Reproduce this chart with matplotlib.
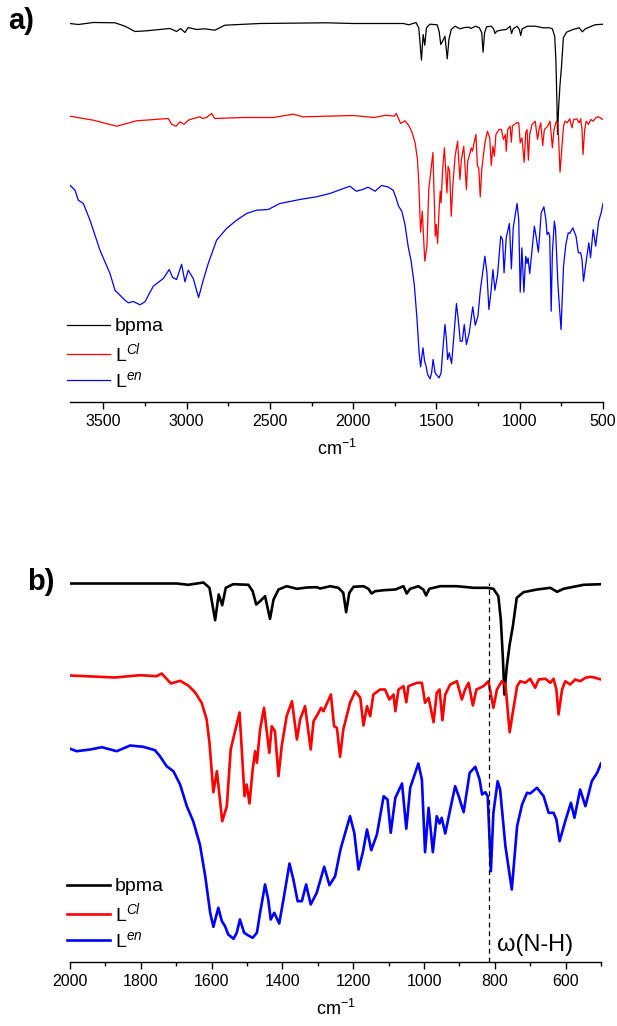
import numpy as np
import matplotlib
matplotlib.use("Agg")
import matplotlib.pyplot as plt
from matplotlib.ticker import MultipleLocator

plt.rcParams['font.family'] = ['Liberation Sans', 'DejaVu Sans']
plt.rcParams['mathtext.fontset'] = 'custom'
plt.rcParams['mathtext.rm'] = 'Liberation Sans'
plt.rcParams['mathtext.it'] = 'Liberation Sans:italic'

##### spectres IR (nombre d'onde cm-1, transmittance décalée u.a.) #####
bpma = [(3700, 416), (3650, 415), (3560, 417), (3430, 416.7), (3370, 413.3), (3310, 408),
        (3240, 408.7), (3100, 411), (3060, 408), (3036, 411), (3010, 407), (2990, 412),
        (2940, 410), (2890, 410.7), (2830, 409.3), (2770, 414.3), (2560, 416), (2160, 416.7),
        (2000, 416), (1840, 416), (1698, 416), (1666, 414.7), (1623, 417), (1606, 411.7),
        (1590, 379.3), (1580, 405), (1570, 394.3), (1560, 411.7), (1539, 415.3), (1496, 414.7),
        (1484, 408.3), (1474, 395), (1463, 398.3), (1449, 403.3), (1435, 380.7), (1425, 400),
        (1411, 410), (1388, 413.3), (1359, 410.7), (1331, 412), (1303, 412.3), (1293, 411),
        (1265, 413.3), (1242, 411.7), (1228, 406.7), (1220, 387.3), (1211, 406.7), (1199, 412.7),
        (1171, 413.3), (1157, 410.7), (1148, 406), (1138, 408.3), (1114, 409.3), (1081, 410),
        (1058, 413.3), (1049, 406), (1039, 410.7), (1016, 413.3), (1002, 410), (994, 404),
        (985, 410.7), (954, 413.3), (907, 413.3), (860, 411.7), (822, 411.7), (804, 410.7),
        (790, 403.3), (783, 380), (777, 340), (773, 305), (766, 333.3), (758, 355),
        (749, 373.3), (738, 401.7), (719, 407.3), (681, 410), (643, 411.7), (624, 407.7),
        (606, 410.7), (549, 414.7), (500, 415.3)]

L_cl = [(3700, 323.3), (3560, 319.3), (3420, 313.3), (3300, 318.7), (3110, 321), (3090, 315.3),
        (3064, 313.3), (3040, 317.7), (3016, 315.3), (2990, 319.3), (2960, 321), (2920, 322.7),
        (2904, 321), (2880, 322), (2850, 326), (2830, 321), (2660, 322), (2480, 322),
        (2360, 325.3), (2300, 322.7), (2000, 324), (1873, 322), (1802, 324.3), (1755, 323.3),
        (1741, 326), (1715, 316), (1689, 318.7), (1666, 314), (1647, 307.3), (1628, 296.7),
        (1614, 280), (1606, 256.7), (1595, 207.3), (1585, 228.3), (1570, 178.3), (1557, 193.3),
        (1546, 250), (1536, 265), (1521, 287), (1507, 203.3), (1501, 215), (1493, 196),
        (1484, 230), (1477, 248.3), (1472, 236.7), (1463, 270), (1452, 291.7), (1437, 246.7),
        (1430, 273.3), (1421, 268.3), (1411, 223.3), (1402, 253.3), (1388, 283.3), (1373, 298.3),
        (1359, 260), (1350, 280), (1336, 293.3), (1320, 250), (1312, 278.3), (1298, 286.7),
        (1291, 291.7), (1284, 288.3), (1263, 305), (1254, 273.3), (1246, 271.7), (1237, 242.7),
        (1228, 270), (1209, 296.7), (1194, 308.3), (1180, 301.7), (1171, 274), (1161, 293.3),
        (1152, 283.3), (1143, 305), (1124, 310), (1110, 310), (1098, 300), (1086, 305),
        (1081, 288.3), (1072, 310), (1058, 313.3), (1050, 297.3), (1044, 313.3), (1020, 316.7),
        (1006, 316.7), (997, 296.7), (987, 301.7), (973, 277.3), (964, 306.7), (956, 310),
        (948, 279.3), (940, 305), (926, 315), (907, 318.3), (893, 300), (884, 310),
        (874, 316.7), (862, 294), (852, 310), (832, 313.3), (818, 318.3), (804, 291.7),
        (794, 310), (780, 318.3), (770, 315), (758, 267.3), (747, 291.7), (737, 313.3),
        (728, 318.3), (714, 316.7), (700, 320.7), (686, 311.7), (676, 320), (657, 320.7),
        (643, 316.7), (634, 320.7), (626, 310), (620, 285), (610, 310), (601, 318.3),
        (587, 315), (573, 320), (559, 318.3), (544, 321.7), (530, 322.7), (516, 321.7),
        (500, 320)]

L_en = [(3700, 254.3), (3670, 249.3), (3650, 239.3), (3620, 236), (3580, 219.3), (3520, 189.3),
        (3460, 166), (3430, 149.3), (3370, 139.3), (3350, 136.7), (3320, 138), (3280, 134.7),
        (3250, 137.7), (3200, 153.3), (3140, 161), (3104, 170), (3084, 162), (3060, 160),
        (3030, 175.3), (3010, 157.7), (2990, 169.3), (2960, 161), (2928, 142), (2900, 159.3),
        (2870, 176), (2820, 199.3), (2760, 211), (2700, 219.3), (2640, 226), (2580, 229.3),
        (2510, 230), (2440, 236), (2320, 240), (2220, 242.7), (2140, 246), (2020, 253.3),
        (2000, 250.7), (1981, 248.3), (1943, 250), (1910, 252.3), (1868, 248.3), (1830, 254),
        (1793, 252.7), (1760, 249.3), (1746, 243.3), (1727, 233.3), (1708, 228.3), (1689, 215),
        (1670, 193.3), (1652, 178.3), (1633, 155), (1618, 123.3), (1604, 86.7), (1595, 72.7),
        (1581, 91.7), (1571, 78.3), (1562, 73.3), (1553, 65), (1538, 60.7), (1529, 66.7),
        (1520, 80), (1508, 66.7), (1496, 64), (1484, 61.7), (1472, 66.7), (1463, 86.7),
        (1449, 115), (1440, 100), (1433, 80), (1423, 86.7), (1409, 76), (1397, 100),
        (1380, 136), (1369, 120), (1357, 98.3), (1345, 98.3), (1333, 115), (1320, 95),
        (1303, 106.7), (1282, 132.7), (1267, 114.3), (1251, 123.3), (1237, 148.3), (1232, 155),
        (1209, 183.3), (1197, 166.7), (1185, 130), (1173, 146.7), (1161, 170), (1149, 149.3),
        (1133, 165), (1114, 203.3), (1103, 200), (1094, 166.7), (1081, 201.7), (1062, 216),
        (1050, 170.7), (1039, 211.7), (1016, 236), (1006, 220), (997, 147.3), (987, 191.7),
        (975, 147.3), (964, 183.3), (956, 176), (950, 181.7), (940, 166), (926, 190),
        (912, 213.3), (902, 203.3), (888, 187.3), (871, 226.7), (855, 232.7), (843, 220),
        (836, 205), (827, 207.3), (820, 203.3), (811, 128.3), (804, 186.7), (792, 218.3),
        (785, 210), (770, 153.3), (752, 110), (737, 173.3), (723, 195), (709, 206.7),
        (700, 206), (681, 211.7), (662, 203.3), (648, 186.7), (634, 186.7), (626, 180),
        (617, 158.3), (601, 178.3), (585, 196.7), (575, 181.7), (559, 210), (544, 193.3),
        (526, 218.3), (511, 226.7), (500, 236)]

names = ['bpma', r'L$^{Cl}$', r'L$^{en}$']
colors = ['black', 'red', 'blue']
panel_labels = ['a)', 'b)']
nh_pos = 815          # position bande omega(N-H)
nh_top = 417
nh_label = 'ω(N-H)'


##### un panneau #####
def drawPanel(ax, xlim, major, minor, lw, ylim):
    for pts, name, col in zip([bpma, L_cl, L_en], names, colors):
        arr = np.array(pts)
        ax.plot(arr[:, 0], arr[:, 1], color=col, lw=lw, label=name,
                solid_joinstyle='round')
    ax.set_xlim(xlim)
    ax.set_ylim(ylim)
    ax.xaxis.set_major_locator(MultipleLocator(major))
    ax.xaxis.set_minor_locator(MultipleLocator(minor))
    for s in ['top', 'left', 'right']:
        ax.spines[s].set_visible(False)
    ax.spines['bottom'].set_linewidth(1.0)
    ax.set_yticks([])
    ax.tick_params(axis='x', which='major', length=5, width=1.0, pad=4, labelsize=11.5)
    ax.tick_params(axis='x', which='minor', length=3, width=1.0)
    ax.set_xlabel(r'cm$^{\mathregular{-1}}$', fontsize=13, labelpad=7)
    leg = ax.legend(loc='upper left', bbox_to_anchor=(-0.005, 0.215), frameon=False,
                    fontsize=14, handlelength=2.2, handletextpad=0.25, labelspacing=0.3,
                    borderpad=0, borderaxespad=0)
    return leg


fig = plt.figure(figsize=(6.17, 10.26), dpi=100)
axA = fig.add_axes([70 / 617, 1 - 402 / 1026, 533 / 617, 392 / 1026])
axB = fig.add_axes([70 / 617, 1 - 962 / 1026, 531 / 617, 392 / 1026])

ylim = (37.5, 429.5)
drawPanel(axA, (3700, 500), 500, 250, 0.9, ylim)
drawPanel(axB, (2000, 500), 200, 100, 1.9, ylim)

##### bande N-H #####
axB.vlines(nh_pos, ylim[0], nh_top, colors='black', linestyles=(0, (4, 3)), lw=0.9)
axB.text(nh_pos - 22, 54, nh_label, fontsize=17, ha='left', va='center')

fig.text(21 / 617, 1 - 21 / 1026, panel_labels[0], fontsize=21, fontweight='bold', ha='center', va='center')
fig.text(41 / 617, 1 - 582 / 1026, panel_labels[1], fontsize=21, fontweight='bold', ha='center', va='center')

fig.savefig('out.png', dpi=100)
